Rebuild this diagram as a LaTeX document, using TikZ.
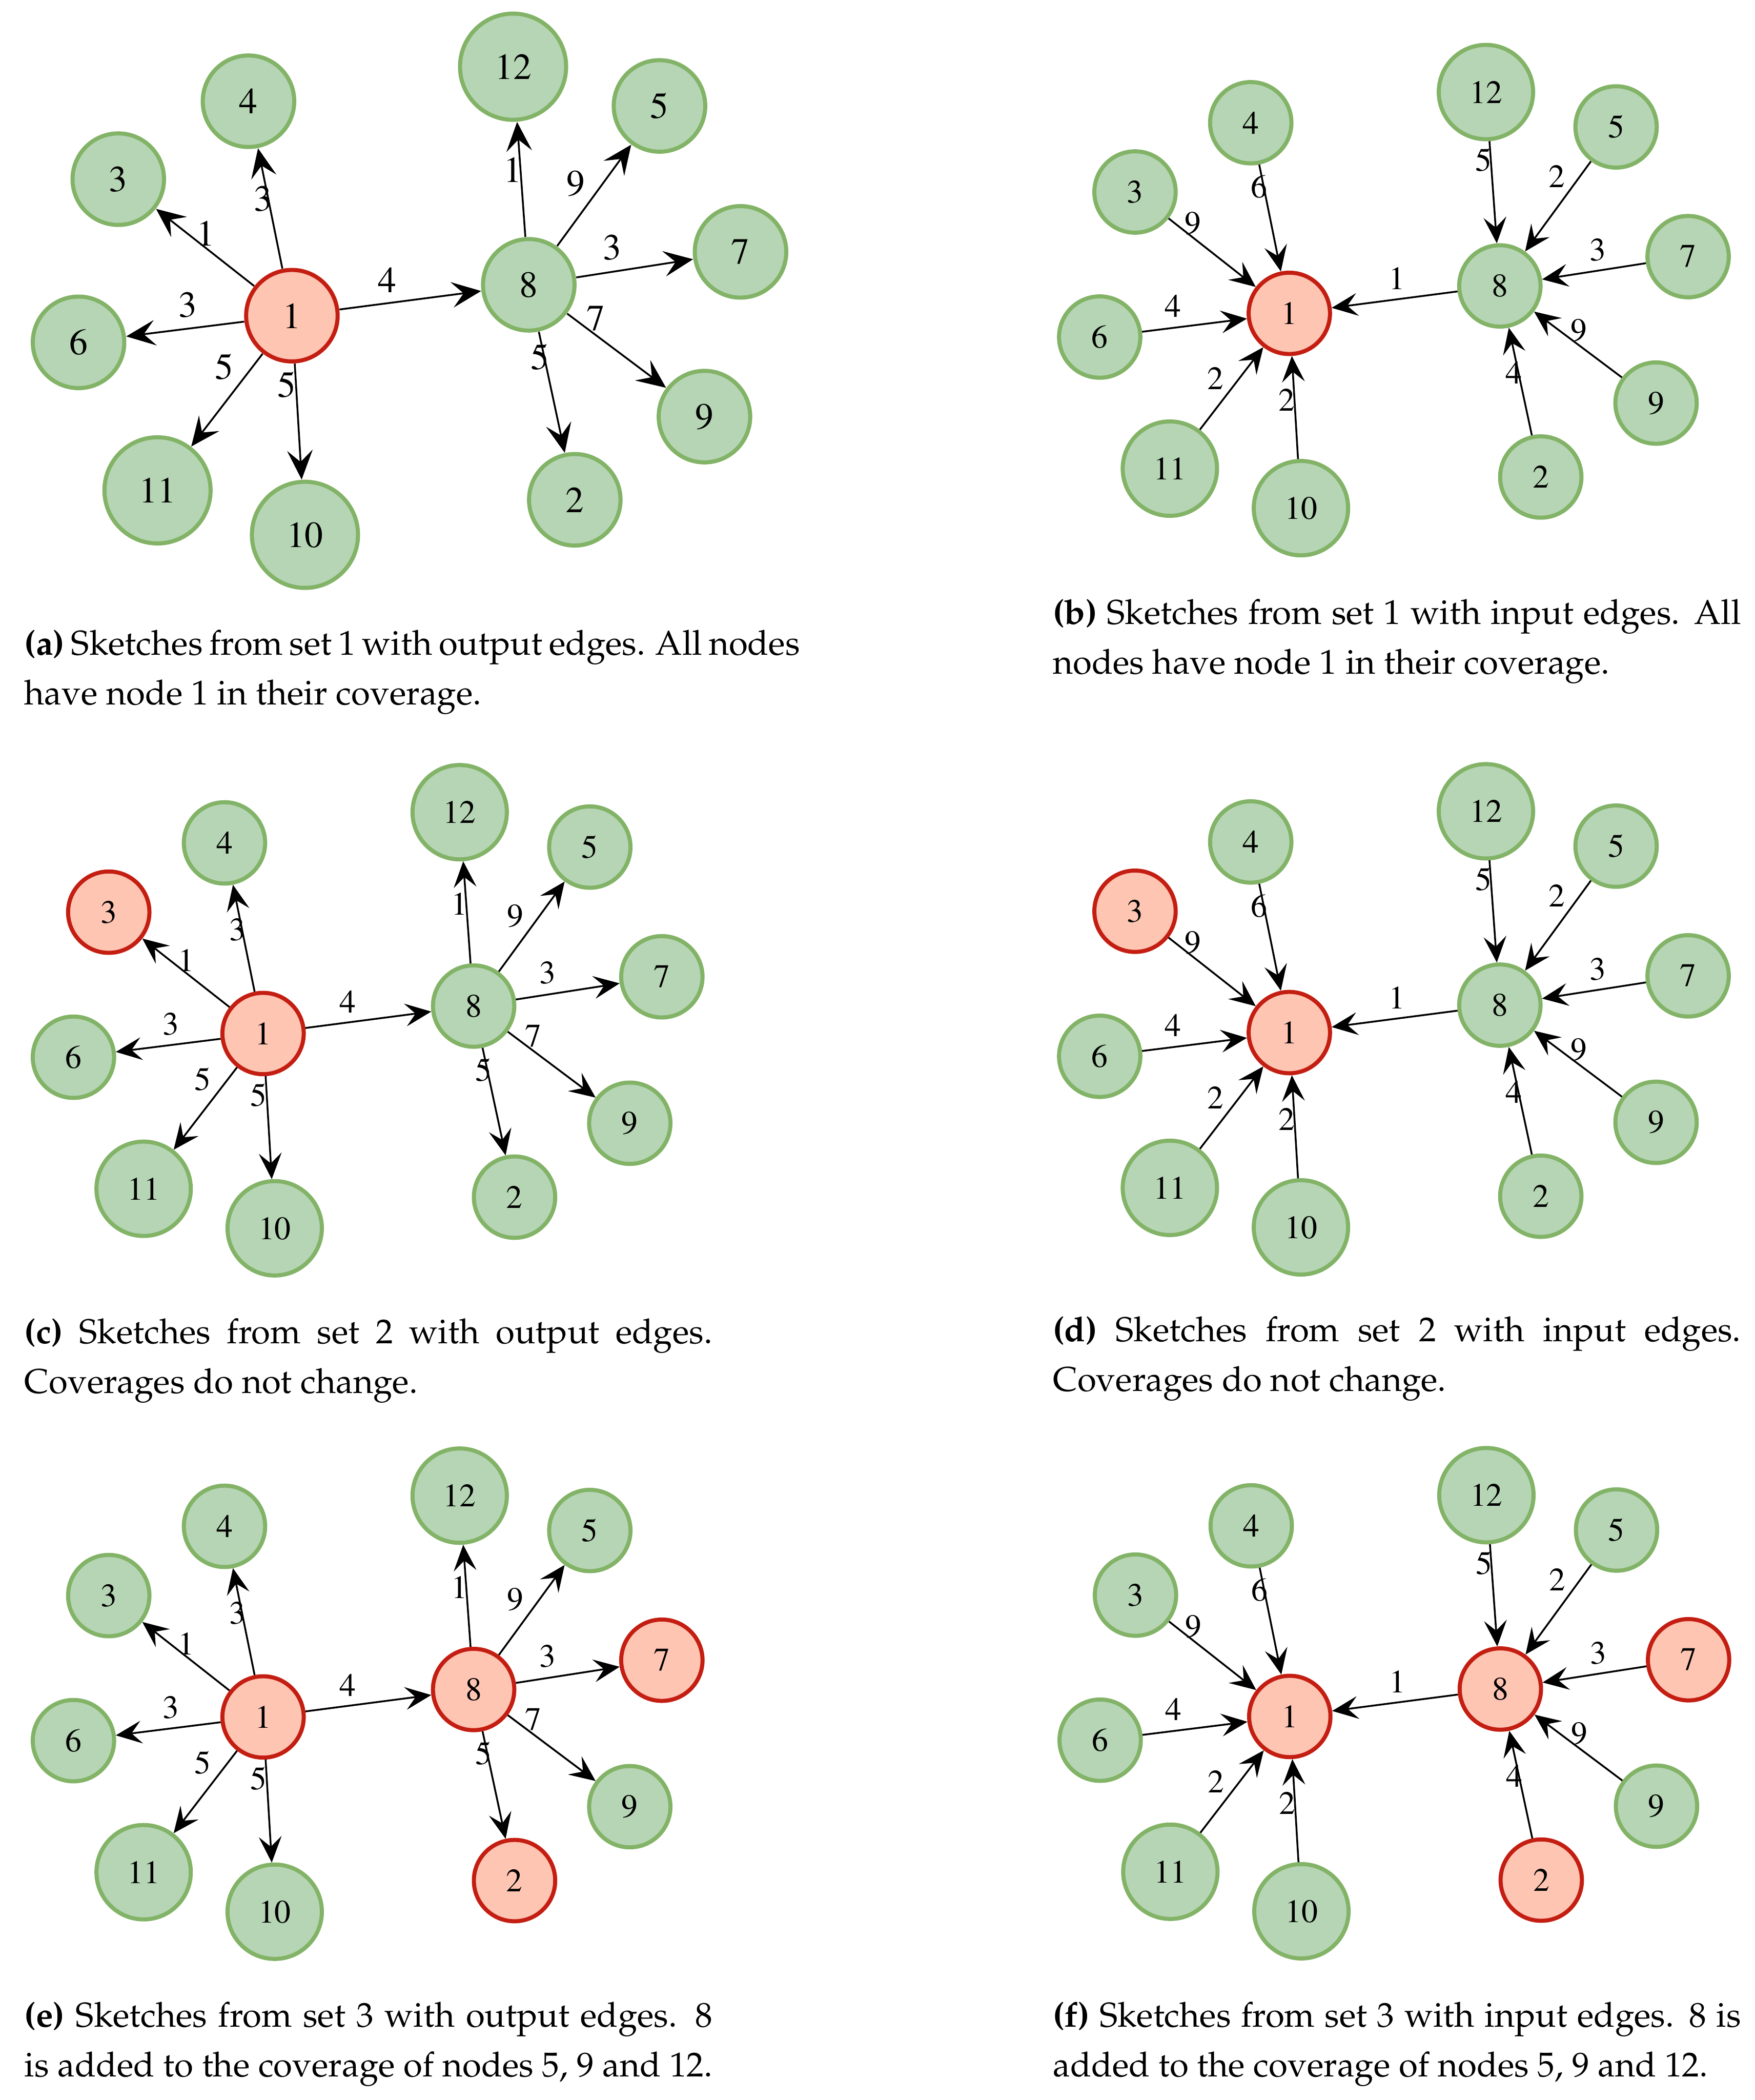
\documentclass[tikz,border=0pt]{standalone}
\usepackage[T1]{fontenc}
\usepackage{xcolor}
\usepackage{tikz}
\usetikzlibrary{arrows.meta,positioning,calc}

\definecolor{skgreen}{HTML}{82B367}
\definecolor{skgreenfill}{HTML}{B5D5B4}
\definecolor{skred}{HTML}{C41E12}
\definecolor{skredfill}{HTML}{FEC5B3}

\newcommand{\nodefont}{\fontfamily{ptm}\fontsize{20}{24}\selectfont}
\newcommand{\capfont}{\fontfamily{ppl}\fontsize{21.1}{30.4}\selectfont}
\newcommand{\capfill}[2]{\makebox[#1][s]{#2}}

\tikzset{
  sknode/.style={circle,draw=skgreen,fill=skgreenfill,line width=2.5pt,
    minimum size=1.75cm,inner sep=0pt,font=\nodefont},
  wide/.style={minimum size=2.03cm},
  hot/.style={draw=skred,fill=skredfill},
  sk10/.style={wide},sk11/.style={wide},sk12/.style={wide},
  tipc/.style={-{Stealth[length=0.56cm,width=0.49cm,inset=0.22cm]}},
  tipa/.style={-{Stealth[length=0.63cm,width=0.55cm,inset=0.25cm]}},
  edgetip/.style={tipc},
  skedge/.style={draw,line width=1.1pt,edgetip},
  wlabel/.style={inner sep=0pt,font=\nodefont},
  caption/.style={anchor=base west,align=left,inner sep=0pt,font=\capfont}
}

% one sketch layout, node 1 at the origin
\newcommand{\sketchnodes}[1]{%
  \foreach \n/\x/\y in {1/0/0,8/4.53/0.59,3/-3.32/2.61,4/-0.83/4.10,
      6/-4.08/-0.51,11/-2.57/-3.34,10/0.25/-4.19,12/4.23/4.76,
      5/7.03/4.01,7/8.58/1.22,9/7.89/-1.93,2/5.41/-3.52}
    \node[sknode,sk\n/.try] (#1\n) at (\x,\y) {\n};
}
% output edges
\newcommand{\outedges}[1]{%
  \foreach \s/\t/\w/\q/\dx/\dy in {1/3/1/0.57/0.14/0.17,1/4/3/0.59/-0.09/-0.02,
      1/6/3/0.45/-0.06/0.45,1/11/5/0.29/-0.34/0.26,1/10/5/0.18/-0.18/-0.01,
      1/8/4/0.36/-0.06/0.44,8/12/1/0.59/-0.15/-0.01,8/5/9/0.49/-0.34/0.25,
      8/7/3/0.34/-0.07/0.46,8/9/7/0.21/0.15/0.20,8/2/5/0.20/-0.08/-0.02}
    \draw[skedge] (#1\s) -- node[wlabel,pos=\q,shift={(\dx,\dy)}] {\w} (#1\t);
}
% input edges
\newcommand{\inedges}[1]{%
  \foreach \s/\t/\w/\q/\dx/\dy in {3/1/9/0.20/0.15/0.19,4/1/6/0.20/-0.10/-0.02,
      6/1/4/0.32/-0.06/0.46,11/1/2/0.48/-0.32/0.25,10/1/2/0.58/-0.17/-0.01,
      8/1/1/0.46/-0.06/0.44,12/8/5/0.18/-0.15/-0.01,5/8/2/0.29/-0.32/0.24,
      7/8/3/0.43/-0.07/0.44,9/8/9/0.57/0.15/0.20,2/8/4/0.59/-0.10/-0.02}
    \draw[skedge] (#1\s) -- node[wlabel,pos=\q,shift={(\dx,\dy)}] {\w} (#1\t);
}

\begin{document}
\begin{tikzpicture}
  \useasboundingbox (0,0) rectangle (37.75,-45.17);

  % (a) set 1, output edges
  \begin{scope}[shift={(6.28,-6.79)},scale=1.125,transform shape,
      edgetip/.style={tipa},sk1/.style={hot}]
    \sketchnodes{a}
    \outedges{a}
  \end{scope}
  % (b) set 1, input edges
  \begin{scope}[shift={(27.74,-6.74)},sk1/.style={hot}]
    \sketchnodes{b}
    \inedges{b}
  \end{scope}
  % (c) set 2, output edges
  \begin{scope}[shift={(5.66,-22.23)},sk1/.style={hot},sk3/.style={hot}]
    \sketchnodes{c}
    \outedges{c}
  \end{scope}
  % (d) set 2, input edges
  \begin{scope}[shift={(27.74,-22.21)},sk1/.style={hot},sk3/.style={hot}]
    \sketchnodes{d}
    \inedges{d}
  \end{scope}
  % (e) set 3, output edges
  \begin{scope}[shift={(5.66,-36.93)},sk1/.style={hot},sk8/.style={hot},
      sk7/.style={hot},sk2/.style={hot}]
    \sketchnodes{e}
    \outedges{e}
  \end{scope}
  % (f) set 3, input edges
  \begin{scope}[shift={(27.75,-36.92)},sk1/.style={hot},sk8/.style={hot},
      sk7/.style={hot},sk2/.style={hot}]
    \sketchnodes{f}
    \inedges{f}
  \end{scope}

  % captions (anchored on the second line)
  \node[caption] (capa) at (0.52,-15.16)
    {\capfill{16.6cm}{\textbf{(a)} Sketches from set 1 with output edges. All nodes}\\
     have node 1 in their coverage.};
  \node[caption] (capb) at (22.65,-14.50)
    {\capfill{14.8cm}{\textbf{(b)} Sketches from set 1 with input edges. All}\\
     nodes have node 1 in their coverage.};
  \node[caption] (capc) at (0.52,-29.97)
    {\capfill{14.8cm}{\textbf{(c)} Sketches from set 2 with output edges.}\\
     Coverages do not change.};
  \node[caption] (capd) at (22.65,-29.92)
    {\capfill{14.8cm}{\textbf{(d)} Sketches from set 2 with input edges.}\\
     Coverages do not change.};
  \node[caption] (cape) at (0.52,-44.67)
    {\capfill{14.8cm}{\textbf{(e)} Sketches from set 3 with output edges. 8}\\
     is added to the coverage of nodes 5, 9 and 12.};
  \node[caption] (capf) at (22.65,-44.67)
    {\capfill{14.8cm}{\textbf{(f)} Sketches from set 3 with input edges. 8 is}\\
     added to the coverage of nodes 5, 9 and 12.};
\end{tikzpicture}
\end{document}
